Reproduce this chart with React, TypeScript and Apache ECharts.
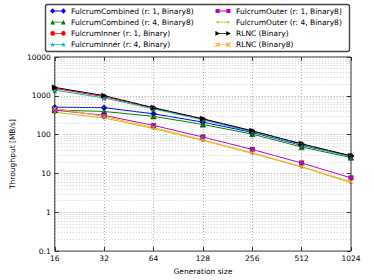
import React, { useEffect, useRef } from "react";
import * as echarts from "echarts";

const generationSizes = [16, 32, 64, 128, 256, 512, 1024];
const combinedR1 = [510, 495, 344, 210, 114, 53, 28];
const combinedR4 = [430, 395, 296, 183, 103, 48, 25.7];
const innerR1 = [1550, 950, 480, 250, 122, 57, 28];
const innerR4 = [1400, 880, 460, 240, 118, 55, 27];
const outerR1 = [430, 313, 173, 87, 41.5, 18.6, 7.7];
const outerR4 = [378, 269, 143, 71, 33, 14.6, 5.8];
const rlncBinary = [1650, 1010, 495, 256, 126, 58, 28.5];
const rlncBinary8 = [470, 296, 152, 73, 34, 15, 6.1];

const seriesNames = [
  "FulcrumCombined (r: 1, Binary8)",
  "FulcrumCombined (r: 4, Binary8)",
  "FulcrumInner (r: 1, Binary)",
  "FulcrumInner (r: 4, Binary)",
  "FulcrumOuter (r: 1, Binary8)",
  "FulcrumOuter (r: 4, Binary8)",
  "RLNC (Binary)",
  "RLNC (Binary8)",
];

const minorGridValues = [
  0.2, 0.3, 0.4, 0.5, 0.6, 0.7, 0.8, 0.9,
  2, 3, 4, 5, 6, 7, 8, 9,
  20, 30, 40, 50, 60, 70, 80, 90,
  200, 300, 400, 500, 600, 700, 800, 900,
  2000, 3000, 4000, 5000, 6000, 7000, 8000, 9000,
];

const STAR =
  "path://M0,-10 L2.35,-3.24 L9.51,-3.09 L3.8,1.24 L5.88,8.09 L0,4 L-5.88,8.09 L-3.8,1.24 L-9.51,-3.09 L-2.35,-3.24 Z";
const XMARK =
  "path://M-1,-0.8 L-0.8,-1 L0,-0.2 L0.8,-1 L1,-0.8 L0.2,0 L1,0.8 L0.8,1 L0,0.2 L-0.8,1 L-1,0.8 L-0.2,0 Z";

const FONT = "DejaVu Sans";

// ---- legend icon geometry (matplotlib-style: line with a marker at each end) ----
const f = (n: number) => n.toFixed(2);
const ANCHORS = "M0,0 L0.01,0 L0,0.01 Z M16,6 L15.99,6 L16,5.99 Z ";
const LINE = "M2,2.6 L14,2.6 L14,3.4 L2,3.4 Z ";
const mDiamond = (c: number) => `M${f(c - 2.6)},3 L${f(c)},0.2 L${f(c + 2.6)},3 L${f(c)},5.8 Z `;
const mTriUp = (c: number) => `M${f(c - 2.5)},5.3 L${f(c)},0.7 L${f(c + 2.5)},5.3 Z `;
const mTriRight = (c: number) => `M${f(c - 2.2)},0.6 L${f(c + 2.4)},3 L${f(c - 2.2)},5.4 Z `;
const mCircle = (c: number, r: number) =>
  `M${f(c - r)},3 A${r},${r} 0 1 1 ${f(c + r)},3 A${r},${r} 0 1 1 ${f(c - r)},3 Z `;
const mSquare = (c: number) => `M${f(c - 2.1)},0.9 L${f(c + 2.1)},0.9 L${f(c + 2.1)},5.1 L${f(c - 2.1)},5.1 Z `;
const mStar = (c: number) => {
  let s = "";
  for (let k = 0; k < 10; k++) {
    const a = (-90 + k * 36) * (Math.PI / 180);
    const r = k % 2 === 0 ? 2.8 : 1.15;
    s += `${k === 0 ? "M" : "L"}${f(c + r * Math.cos(a))},${f(3.2 + r * Math.sin(a))} `;
  }
  return s + "Z ";
};
const mX = (c: number) => {
  const d = 2.1;
  const t = 0.45;
  return (
    `M${f(c - d - t)},${f(3 - d + t)} L${f(c - d + t)},${f(3 - d - t)} L${f(c + d + t)},${f(3 + d - t)} L${f(c + d - t)},${f(3 + d + t)} Z ` +
    `M${f(c + d - t)},${f(3 - d - t)} L${f(c + d + t)},${f(3 - d + t)} L${f(c - d + t)},${f(3 + d + t)} L${f(c - d - t)},${f(3 + d - t)} Z `
  );
};
const icon = (m: (c: number) => string) => "path://" + ANCHORS + LINE + m(2.6) + m(13.4);
const legendIcons = [
  icon(mDiamond),
  icon(mTriUp),
  icon((c) => mCircle(c, 2.3)),
  icon(mStar),
  icon(mSquare),
  icon((c) => mCircle(c, 1.1)),
  icon(mTriRight),
  icon(mX),
];

export default function App() {
  const ref = useRef<HTMLDivElement>(null);

  useEffect(() => {
    if (!ref.current) return;
    const chart = echarts.init(ref.current, undefined, { renderer: "svg" });

    const mk = (
      name: string,
      values: number[],
      color: string,
      symbol: string,
      symbolSize: number,
      extra: any = {}
    ) => ({
      name,
      type: "line",
      data: generationSizes.map((g, i) => [g, values[i]]),
      symbol,
      symbolSize,
      showSymbol: true,
      lineStyle: { color, width: 1 },
      itemStyle: { color, borderColor: "#000", borderWidth: 0.4 },
      emphasis: { disabled: true },
      ...extra,
    });

    const series: any[] = [
      mk(seriesNames[0], combinedR1, "#0000ff", "diamond", 6),
      mk(seriesNames[1], combinedR4, "#008000", "triangle", 5.5),
      mk(seriesNames[2], innerR1, "#ff0000", "circle", 4.5),
      mk(seriesNames[3], innerR4, "#00bfbf", STAR, 5.5),
      mk(seriesNames[4], outerR1, "#bf00bf", "rect", 4.5),
      mk(seriesNames[5], outerR4, "#bfbf00", "circle", 2.2),
      mk(seriesNames[6], rlncBinary, "#000000", "triangle", 5.5, { symbolRotate: -90 }),
      mk(seriesNames[7], rlncBinary8, "#ffb030", XMARK, 4.5, {
        itemStyle: { color: "#ffb030", borderWidth: 0 },
      }),
      {
        type: "line",
        data: [],
        silent: true,
        markLine: {
          silent: true,
          symbol: ["none", "none"],
          label: { show: false },
          lineStyle: { type: [1, 2], color: "#b0b0b0", width: 0.6 },
          data: minorGridValues.map((v) => ({ yAxis: v })),
        },
      },
    ];

    const axisText = { color: "#000", fontFamily: FONT, fontSize: 7.5 };

    const legendBase = {
      orient: "vertical",
      top: 7,
      itemGap: 3.2,
      itemWidth: 16,
      itemHeight: 6,
      padding: 0,
      itemStyle: { borderWidth: 0 },
      textStyle: { ...axisText },
      selectedMode: false,
    };

    chart.setOption({
      animation: false,
      textStyle: { fontFamily: FONT },
      grid: {
        left: 47,
        right: 23,
        top: 57,
        bottom: 22,
        show: true,
        borderColor: "#333",
        borderWidth: 1,
        containLabel: false,
      },
      legend: [
        {
          ...legendBase,
          left: 50,
          data: seriesNames.slice(0, 4).map((n, i) => ({ name: n, icon: legendIcons[i] })),
        },
        {
          ...legendBase,
          left: 215,
          data: seriesNames.slice(4, 8).map((n, i) => ({ name: n, icon: legendIcons[i + 4] })),
        },
      ],
      graphic: [
        {
          type: "rect",
          shape: { x: 45.5, y: 4.5, width: 304, height: 47, r: 2 },
          style: { fill: "none", stroke: "#444", lineWidth: 1.4 },
          z: 10,
        },
      ],
      xAxis: [
        {
          type: "log",
          logBase: 2,
          min: 16,
          max: 1024,
          splitNumber: 6,
          name: "Generation size",
          nameLocation: "middle",
          nameGap: 12,
          nameTextStyle: { ...axisText },
          axisLine: { show: false },
          axisTick: { inside: true, length: 4, lineStyle: { color: "#333" } },
          axisLabel: { ...axisText, margin: 3, formatter: (v: number) => String(v) },
          splitLine: { show: true, lineStyle: { type: [1, 2], color: "#999", width: 0.8 } },
        },
        {
          type: "log",
          logBase: 2,
          min: 16,
          max: 1024,
          splitNumber: 6,
          position: "top",
          axisLine: { show: false },
          axisTick: { inside: true, length: 4, lineStyle: { color: "#333" } },
          axisLabel: { show: false },
          splitLine: { show: false },
        },
      ],
      yAxis: [
        {
          type: "log",
          logBase: 10,
          min: 0.1,
          max: 10000,
          name: "Throughput [MB/s]",
          nameLocation: "middle",
          nameGap: 30,
          nameTextStyle: { ...axisText },
          axisLine: { show: false },
          axisTick: { inside: true, length: 4, lineStyle: { color: "#333" } },
          axisLabel: {
            ...axisText,
            margin: 4,
            formatter: (v: number) => String(v),
          },
          splitLine: { show: true, lineStyle: { type: [1, 2], color: "#999", width: 0.8 } },
        },
        {
          type: "log",
          logBase: 10,
          min: 0.1,
          max: 10000,
          position: "right",
          axisLine: { show: false },
          axisTick: { inside: true, length: 4, lineStyle: { color: "#333" } },
          axisLabel: { show: false },
          splitLine: { show: false },
        },
      ],
      series,
    });

    return () => chart.dispose();
  }, []);

  return <div ref={ref} style={{ width: 374, height: 280, position: "absolute", left: 0, top: 0 }} />;
}
